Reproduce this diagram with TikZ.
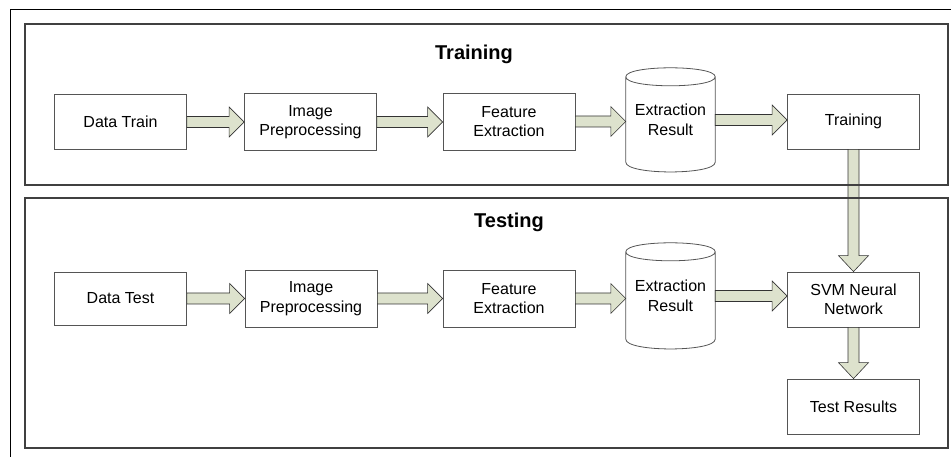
\documentclass[tikz,border=0pt]{standalone}
\usepackage{fontspec}
\setmainfont{Liberation Sans}
\usetikzlibrary{calc}

\definecolor{arrowgreen}{RGB}{221,226,205}
\definecolor{boxgray}{RGB}{85,85,85}

% fat arrows between boxes
\newcommand{\harrow}[2]{%
  \draw[blockarrow] let \p1=(#1.east), \p2=(#2.west) in
    (\x1,\y1+5.5pt) -- (\x2-15pt,\y1+5.5pt) -- (\x2-15pt,\y1+15pt) -- (\x2,\y1)
    -- (\x2-15pt,\y1-15pt) -- (\x2-15pt,\y1-5.5pt) -- (\x1,\y1-5.5pt) -- cycle;}
\newcommand{\varrow}[2]{%
  \draw[blockarrow] let \p1=(#1.south), \p2=(#2.north) in
    (\x1-5.5pt,\y1) -- (\x1-5.5pt,\y2+16pt) -- (\x1-15pt,\y2+16pt) -- (\x1,\y2)
    -- (\x1+15pt,\y2+16pt) -- (\x1+5.5pt,\y2+16pt) -- (\x1+5.5pt,\y1) -- cycle;}
% database outline round a node
\newcommand{\dbshape}[1]{%
  \draw[boxline] let \p1=(#1.north west), \p2=(#1.south east) in
    (\x1,\y1-9pt) -- (\x1,\y2+10pt) .. controls (\x1,\y2-3pt) and (\x2,\y2-3pt) .. (\x2,\y2+10pt)
    -- (\x2,\y1-9pt) .. controls (\x2,\y1+3pt) and (\x1,\y1+3pt) .. (\x1,\y1-9pt)
    .. controls (\x1,\y1-21pt) and (\x2,\y1-21pt) .. (\x2,\y1-9pt);}

\begin{document}
\begin{tikzpicture}[x=1pt, y=-1pt,
  font=\fontsize{16}{19.5}\selectfont,
  boxline/.style={draw=boxgray, line width=0.8pt},
  procbox/.style={boxline, fill=white, minimum width=132pt, minimum height=55pt, align=center, inner sep=2pt},
  dbnode/.style={minimum width=89pt, minimum height=104pt, align=center, inner sep=0pt},
  blockarrow/.style={draw=black!80, fill=arrowgreen, line width=0.6pt, line join=miter},
  panel/.style={draw=black!75, line width=1.1pt},
  title/.style={font=\fontsize{20}{24}\selectfont\bfseries}]
  \useasboundingbox (0,0) rectangle (951,457);

  % training row
  \node [title] (ttrain) at (474,54) {Training};
  \node [procbox] (dtrain) at (120.5,122) {Data Train};
  \node [procbox, minimum height=57pt] (iptrain) at (310.5,122) {Image\\Preprocessing};
  \node [procbox, minimum height=57pt] (fetrain) at (509,121.5) {Feature\\Extraction};
  \node [dbnode] (dbtrain) at (670.5,120) {Extraction\\Result};
  \node [procbox] (train) at (853.5,121.5) {Training};
  \dbshape{dbtrain}

  % testing row
  \node [title] (ttest) at (509,222) {Testing};
  \node [procbox, minimum height=53pt] (dtest) at (120.5,298.5) {Data Test};
  \node [procbox, minimum height=57pt] (iptest) at (311,298.5) {Image\\Preprocessing};
  \node [procbox, minimum height=57pt] (fetest) at (509,298.5) {Feature\\Extraction};
  \node [dbnode, minimum height=106pt] (dbtest) at (670.5,296) {Extraction\\Result};
  \node [procbox] (svm) at (853.5,299.5) {SVM Neural\\Network};
  \node [procbox] (results) at (853.5,406.5) {Test Results};
  \dbshape{dbtest}

  \harrow{dtrain}{iptrain}
  \harrow{iptrain}{fetrain}
  \harrow{fetrain}{dbtrain}
  \harrow{dbtrain}{train}
  \harrow{dtest}{iptest}
  \harrow{iptest}{fetest}
  \harrow{fetest}{dbtest}
  \harrow{dbtest}{svm}
  \varrow{train}{svm}
  \varrow{svm}{results}

  % frames
  \draw [panel] (25,24) rectangle (948,185);
  \draw [panel] (25,198) rectangle (948,448);
  \draw [black, line width=1pt] (10,457) -- (10,9.5) -- (951,9.5);
\end{tikzpicture}
\end{document}
